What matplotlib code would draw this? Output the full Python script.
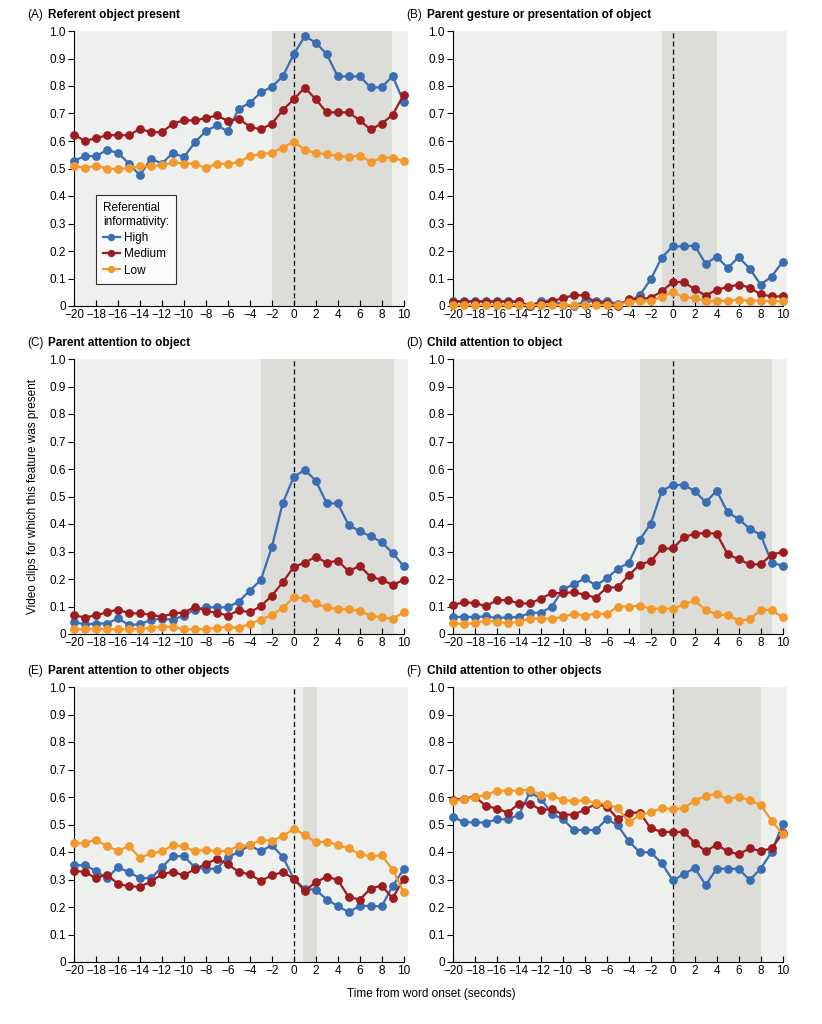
import numpy as np
import matplotlib
matplotlib.use('Agg')
import matplotlib.pyplot as plt

plt.rcParams['font.family'] = ['Liberation Sans', 'DejaVu Sans']

# time from word onset, one point per second
t = np.arange(-20, 11)

# (A) referent object present
a_high = [0.528, 0.545, 0.545, 0.567, 0.557, 0.518, 0.475, 0.536, 0.518, 0.557, 0.541,
          0.595, 0.636, 0.657, 0.635, 0.718, 0.738, 0.777, 0.797, 0.835, 0.915,
          0.981, 0.958, 0.916, 0.835, 0.835, 0.835, 0.795, 0.795, 0.836, 0.743]
a_med = [0.623, 0.600, 0.610, 0.621, 0.621, 0.621, 0.644, 0.632, 0.632, 0.663, 0.675,
         0.675, 0.683, 0.693, 0.673, 0.681, 0.652, 0.642, 0.663, 0.712, 0.752,
         0.794, 0.752, 0.704, 0.704, 0.704, 0.675, 0.642, 0.663, 0.695, 0.768]
a_low = [0.510, 0.502, 0.510, 0.499, 0.499, 0.501, 0.508, 0.508, 0.512, 0.522, 0.518,
         0.518, 0.501, 0.518, 0.516, 0.523, 0.545, 0.552, 0.558, 0.576, 0.598,
         0.568, 0.557, 0.552, 0.546, 0.542, 0.547, 0.525, 0.538, 0.540, 0.527]

# (B) parent gesture or presentation of object
b_high = [0.018, 0.018, 0.018, 0.018, 0.018, 0.018, 0.013, 0.0, 0.018, 0.020, 0.005,
          0.0, 0.017, 0.017, 0.017, 0.008, 0.015, 0.040, 0.097, 0.176, 0.217,
          0.217, 0.220, 0.153, 0.180, 0.138, 0.178, 0.136, 0.078, 0.107, 0.161]
b_med = [0.016, 0.016, 0.016, 0.016, 0.016, 0.016, 0.017, 0.0, 0.011, 0.017, 0.029,
         0.039, 0.039, 0.012, 0.012, 0.0, 0.025, 0.025, 0.030, 0.053, 0.087,
         0.087, 0.061, 0.038, 0.059, 0.069, 0.078, 0.067, 0.042, 0.035, 0.035]
b_low = [0.003, 0.003, 0.003, 0.003, 0.003, 0.003, 0.003, 0.003, 0.003, 0.003, 0.003,
         0.003, 0.003, 0.003, 0.003, 0.003, 0.016, 0.017, 0.017, 0.034, 0.051,
         0.032, 0.029, 0.018, 0.018, 0.019, 0.023, 0.019, 0.019, 0.017, 0.017]

# (C) parent attention to object
c_high = [0.043, 0.035, 0.038, 0.038, 0.057, 0.033, 0.035, 0.052, 0.055, 0.052, 0.067,
          0.089, 0.097, 0.097, 0.097, 0.118, 0.158, 0.196, 0.315, 0.476, 0.571,
          0.597, 0.558, 0.475, 0.475, 0.396, 0.374, 0.355, 0.334, 0.295, 0.247]
c_med = [0.068, 0.060, 0.068, 0.079, 0.089, 0.075, 0.075, 0.070, 0.062, 0.075, 0.078,
         0.098, 0.084, 0.077, 0.067, 0.086, 0.079, 0.101, 0.139, 0.188, 0.244,
         0.259, 0.281, 0.259, 0.267, 0.228, 0.248, 0.208, 0.197, 0.179, 0.196]
c_low = [0.017, 0.017, 0.019, 0.018, 0.017, 0.018, 0.019, 0.022, 0.027, 0.026, 0.017,
         0.017, 0.018, 0.022, 0.027, 0.021, 0.038, 0.052, 0.069, 0.094, 0.134,
         0.130, 0.111, 0.097, 0.090, 0.090, 0.084, 0.066, 0.061, 0.055, 0.079]

# (D) child attention to object
d_high = [0.062, 0.062, 0.062, 0.064, 0.058, 0.061, 0.061, 0.077, 0.077, 0.100, 0.162,
          0.181, 0.202, 0.177, 0.202, 0.238, 0.259, 0.343, 0.401, 0.520, 0.542,
          0.542, 0.520, 0.479, 0.521, 0.442, 0.418, 0.383, 0.361, 0.260, 0.248]
d_med = [0.106, 0.115, 0.113, 0.101, 0.123, 0.123, 0.111, 0.111, 0.129, 0.149, 0.149,
         0.152, 0.143, 0.132, 0.169, 0.170, 0.214, 0.252, 0.265, 0.311, 0.311,
         0.351, 0.365, 0.367, 0.365, 0.290, 0.272, 0.253, 0.253, 0.289, 0.298]
d_low = [0.040, 0.035, 0.040, 0.049, 0.045, 0.039, 0.045, 0.056, 0.056, 0.056, 0.062,
         0.074, 0.067, 0.074, 0.072, 0.100, 0.100, 0.103, 0.092, 0.092, 0.092,
         0.108, 0.122, 0.087, 0.072, 0.068, 0.049, 0.053, 0.087, 0.087, 0.061]

# (E) parent attention to other objects
e_high = [0.352, 0.352, 0.331, 0.304, 0.345, 0.326, 0.305, 0.305, 0.344, 0.385, 0.385,
          0.344, 0.339, 0.339, 0.383, 0.399, 0.425, 0.402, 0.425, 0.383, 0.303,
          0.265, 0.263, 0.227, 0.204, 0.181, 0.204, 0.204, 0.202, 0.276, 0.337]
e_med = [0.332, 0.327, 0.305, 0.318, 0.284, 0.275, 0.274, 0.292, 0.319, 0.328, 0.315,
         0.338, 0.356, 0.375, 0.356, 0.327, 0.319, 0.295, 0.315, 0.327, 0.303,
         0.259, 0.290, 0.310, 0.299, 0.236, 0.227, 0.267, 0.278, 0.232, 0.302]
e_low = [0.432, 0.432, 0.445, 0.421, 0.405, 0.421, 0.379, 0.395, 0.402, 0.425, 0.421,
         0.402, 0.408, 0.402, 0.405, 0.421, 0.425, 0.444, 0.441, 0.458, 0.484,
         0.463, 0.435, 0.438, 0.425, 0.413, 0.392, 0.384, 0.388, 0.336, 0.253]

# (F) child attention to other objects
f_high = [0.528, 0.508, 0.508, 0.507, 0.519, 0.519, 0.535, 0.617, 0.594, 0.539, 0.519,
          0.480, 0.480, 0.480, 0.520, 0.497, 0.439, 0.399, 0.399, 0.359, 0.297,
          0.319, 0.342, 0.280, 0.339, 0.339, 0.339, 0.298, 0.339, 0.400, 0.501]
f_med = [0.590, 0.594, 0.601, 0.567, 0.558, 0.543, 0.576, 0.576, 0.553, 0.556, 0.536,
         0.536, 0.554, 0.575, 0.565, 0.520, 0.543, 0.543, 0.486, 0.473, 0.473,
         0.473, 0.434, 0.402, 0.427, 0.402, 0.392, 0.413, 0.404, 0.413, 0.468]
f_low = [0.584, 0.592, 0.599, 0.608, 0.623, 0.623, 0.623, 0.627, 0.607, 0.604, 0.589,
         0.585, 0.588, 0.578, 0.575, 0.559, 0.509, 0.533, 0.545, 0.559, 0.556,
         0.559, 0.587, 0.604, 0.611, 0.592, 0.601, 0.588, 0.571, 0.514, 0.465]

letters = ['A', 'B', 'C', 'D', 'E', 'F']
titles = ['Referent object present', 'Parent gesture or presentation of object',
          'Parent attention to object', 'Child attention to object',
          'Parent attention to other objects', 'Child attention to other objects']
highs = [a_high, b_high, c_high, d_high, e_high, f_high]
meds = [a_med, b_med, c_med, d_med, e_med, f_med]
lows = [a_low, b_low, c_low, d_low, e_low, f_low]
# shaded window (seconds) in each panel
spans = [(-2, 8.9), (-1, 4), (-3, 9.1), (-3, 9.05), (0.8, 2.1), (0, 8.05)]

col_high = '#3b6db3'
col_med = '#9c1c20'
col_low = '#f3992c'
bg = '#eef0ee'
shade = '#dcdcd8'
fs = 8.5

W, H = 822, 1024
fig = plt.figure(figsize=(W / 100, H / 100), dpi=100)

lefts = [74, 453]
tops = [31, 359, 687]
ax_w = 334
ax_h = 275

for i in range(6):
    r, c = i // 2, i % 2
    x0 = lefts[c]
    y0 = tops[r]
    ax = fig.add_axes([x0 / W, 1 - (y0 + ax_h) / H, ax_w / W, ax_h / H])
    ax.set_facecolor(bg)
    ax.axvspan(spans[i][0], spans[i][1], color=shade, lw=0, zorder=0)
    ax.axvline(0, color='black', ls=(0, (4, 2.5)), lw=0.9, zorder=1)

    kw = dict(marker='o', ms=5.3, lw=1.6, zorder=3, clip_on=False)
    ax.plot(t, highs[i], color=col_high, label='High', **kw)
    ax.plot(t, meds[i], color=col_med, label='Medium', **kw)
    ax.plot(t, lows[i], color=col_low, label='Low', **kw)

    ax.set_xlim(-20, 10.4)
    ax.set_ylim(0, 1.0)
    for s in ['top', 'right']:
        ax.spines[s].set_visible(False)
    ax.spines['bottom'].set_bounds(-20, 10)
    ax.spines['left'].set_linewidth(0.8)
    ax.spines['bottom'].set_linewidth(0.8)

    ax.set_xticks(np.arange(-20, 11, 2))
    ax.set_xticklabels([str(v).replace('-', '\u2212') for v in range(-20, 11, 2)])
    yt = np.arange(0, 1.01, 0.1)
    ax.set_yticks(yt)
    ax.set_yticklabels(['0'] + ['%.1f' % v for v in yt[1:]])
    ax.tick_params(axis='x', direction='in', length=4, width=0.8, labelsize=fs, pad=2)
    ax.tick_params(axis='y', direction='out', length=4, width=0.8, labelsize=fs, pad=2)

    fig.text((x0 - 47) / W, 1 - (y0 - 13) / H, '(%s)' % letters[i], fontsize=fs,
             va='baseline', ha='left')
    fig.text((x0 - 26) / W, 1 - (y0 - 13) / H, titles[i], fontsize=fs, fontweight='bold',
             va='baseline', ha='left')

    if i == 0:
        leg = ax.legend(title='Referential\ninformativity:', loc='lower left',
                        bbox_to_anchor=(0.048, 0.06), fontsize=fs, title_fontsize=fs,
                        frameon=True, fancybox=False, edgecolor='black',
                        handlelength=1.4, handletextpad=0.4, labelspacing=0.35,
                        borderpad=0.6, markerscale=0.8)
        leg.get_frame().set_linewidth(0.8)
        leg._legend_box.align = 'left'

fig.text(33 / W, 1 - 496 / H, 'Video clips for which this feature was present',
         rotation=90, fontsize=fs, ha='center', va='center')
fig.text(431 / W, 1 - 994 / H, 'Time from word onset (seconds)', fontsize=fs,
         ha='center', va='center')

fig.savefig('out.png', dpi=100)
